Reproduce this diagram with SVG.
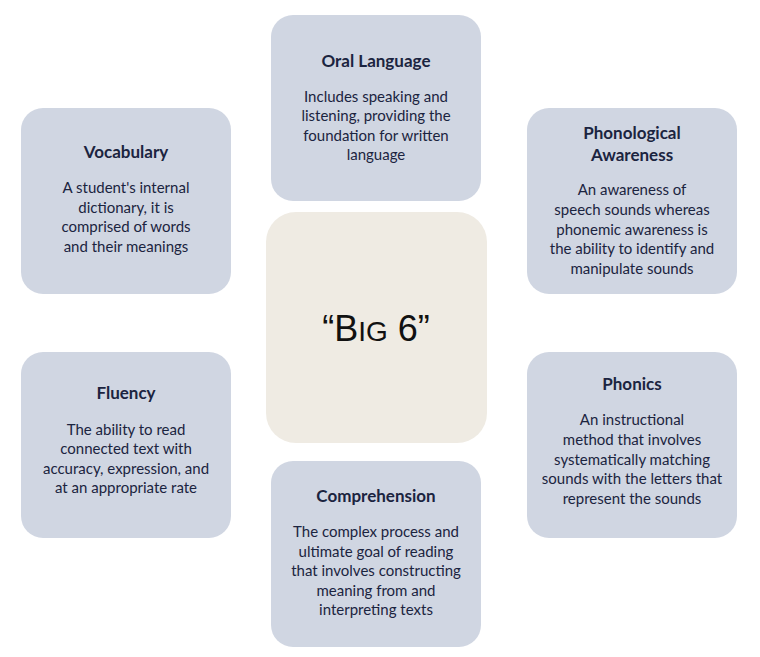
<svg xmlns="http://www.w3.org/2000/svg" width="760" height="657" viewBox="0 0 760 657">
<style>
.box{fill:#d0d6e2}
.t{font-family:Lato,"Liberation Sans",sans-serif;font-weight:bold;font-size:17px;fill:#1b2440;text-anchor:middle}
.b{font-family:Lato,"Liberation Sans",sans-serif;font-size:15px;fill:#1b2440;text-anchor:middle}
</style>
<rect width="760" height="657" fill="#fff"/>
<g id="center"><rect x="266" y="212" width="221" height="231" rx="30" fill="#efebe3"/>
<text x="376" y="341" font-family="'Liberation Sans',Arial,sans-serif" font-size="36" fill="#111" text-anchor="middle">“B<tspan font-size="28">IG</tspan> 6”</text></g>
<g id="oral"><rect class="box" x="271" y="15" width="210" height="186" rx="22"/>
<text class="t" x="376" y="67">Oral Language</text>
<text class="b" x="376" y="102">Includes speaking and</text><text class="b" x="376" y="121">listening, providing the</text><text class="b" x="376" y="141">foundation for written</text><text class="b" x="376" y="160">language</text></g>
<g id="vocab"><rect class="box" x="21" y="108" width="210" height="186" rx="22"/>
<text class="t" x="126" y="158">Vocabulary</text>
<text class="b" x="126" y="193">A student's internal</text><text class="b" x="126" y="213">dictionary, it is</text><text class="b" x="126" y="232">comprised of words</text><text class="b" x="126" y="252">and their meanings</text></g>
<g id="phono"><rect class="box" x="527" y="108" width="210" height="186" rx="22"/>
<text class="t" x="632" y="139">Phonological</text><text class="t" x="632" y="161">Awareness</text>
<text class="b" x="632" y="195">An awareness of</text><text class="b" x="632" y="215">speech sounds whereas</text><text class="b" x="632" y="235">phonemic awareness is</text><text class="b" x="632" y="254">the ability to identify and</text><text class="b" x="632" y="274">manipulate sounds</text></g>
<g id="fluency"><rect class="box" x="21" y="352" width="210" height="186" rx="22"/>
<text class="t" x="126" y="399">Fluency</text>
<text class="b" x="126" y="435">The ability to read</text><text class="b" x="126" y="454">connected text with</text><text class="b" x="126" y="474">accuracy, expression, and</text><text class="b" x="126" y="493">at an appropriate rate</text></g>
<g id="phonics"><rect class="box" x="527" y="352" width="210" height="186" rx="22"/>
<text class="t" x="632" y="390">Phonics</text>
<text class="b" x="632" y="425">An instructional</text><text class="b" x="632" y="445">method that involves</text><text class="b" x="632" y="465">systematically matching</text><text class="b" x="632" y="484">sounds with the letters that</text><text class="b" x="632" y="504">represent the sounds</text></g>
<g id="comp"><rect class="box" x="271" y="461" width="210" height="186" rx="22"/>
<text class="t" x="376" y="502">Comprehension</text>
<text class="b" x="376" y="537">The complex process and</text><text class="b" x="376" y="557">ultimate goal of reading</text><text class="b" x="376" y="576">that involves constructing</text><text class="b" x="376" y="596">meaning from and</text><text class="b" x="376" y="615">interpreting texts</text></g>
<g id="connectors"/>
</svg>
